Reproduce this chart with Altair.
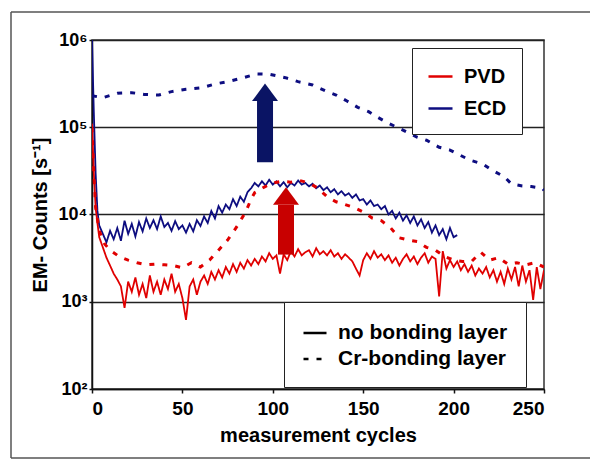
import altair as alt
import pandas as pd

# ---------------- data ----------------
materials = ["PVD", "ECD"]
layer_names = ["no bonding layer", "Cr-bonding layer"]
line_colors = ["#e00000", "#0d0d80"]

x_ticks = [0, 50, 100, 150, 200, 250]
y_ticks = [100, 1000, 10000, 100000, 1000000]

# PVD, no bonding layer (solid red, noisy)
pvd_solid_cycles = [0, 1, 2, 3] + list(range(4, 251, 2))
pvd_solid_counts = [
    110000, 30000, 12000, 8000,
    5500, 4200, 3200, 2600, 2100, 1800, 1500, 850, 1700, 1300,
    1900, 1200, 1600, 1100, 2000, 1300, 1700, 1200, 1800, 1400,
    2100, 1300, 1600, 1100, 620, 1500, 1800, 1200, 1700, 2000,
    1600, 2200, 1800, 2300, 1900, 2500, 2100, 2700, 2200, 2800,
    2400, 3000, 2600, 3100, 2700, 3300, 2900, 3600, 3100, 3400,
    2100, 3500, 3000, 3800, 3300, 4000, 3400, 3700, 3900, 3300,
    4100, 3500, 3800, 3400, 3900, 3300, 3600, 3100, 3500, 3200,
    2900, 2400, 2000, 3000, 3600, 3100, 3800, 3200, 3500, 3000,
    3400, 2800, 3200, 2600, 3100, 3500, 2900, 3300, 2700, 3200,
    3600, 2800, 3300, 3100, 1150, 3800, 2400, 3000, 2500, 2900,
    2300, 2700, 2200, 2600, 2000, 2400, 2100, 2500, 1900, 2300,
    1700, 2200, 1600, 2400, 1800, 2500, 1500, 2600, 1700, 2300,
    1050, 2500, 1400, 2300,
]

# ECD, no bonding layer (solid navy, noisy)
ecd_solid_cycles = [0, 1, 2, 3] + list(range(4, 203, 2))
ecd_solid_counts = [
    1000000, 150000, 30000, 11000,
    7500, 6000, 4800, 6500, 5200, 7000, 5000, 8500, 6000, 7800,
    5600, 8200, 6400, 9000, 7000, 8600, 6800, 9500, 7200, 8000,
    6500, 8400, 6800, 7500, 6200, 7800, 6400, 8600, 7400, 9500,
    8000, 11000, 9000, 12500, 10500, 13000, 11500, 15000, 12500, 16000,
    14000, 18000, 20000, 23000, 21000, 24000, 21500, 25000, 22000, 24000,
    21000, 23500, 20500, 23000, 21500, 24500, 22000, 23000, 21000, 22500,
    20000, 21500, 19000, 20500, 18000, 19500, 17000, 18500, 16500, 17500,
    15500, 17000, 14500, 15000, 13000, 14500, 12500, 13000, 11500, 12500,
    10000, 11000, 9000, 10500, 8500, 9800, 8000, 9500, 7500, 8800,
    7000, 8200, 6200, 7500, 5800, 6800, 5200, 7000, 5500, 5800,
]

# PVD, Cr-bonding layer (dashed red)
pvd_cr_cycles = [0, 1, 2, 4, 7, 10, 15, 20, 25, 30, 35, 40, 45, 50, 55, 60, 65,
                 70, 75, 80, 85, 88, 90, 95, 100, 105, 110, 115, 120, 125, 130,
                 135, 140, 145, 150, 155, 160, 165, 170, 175, 180, 185, 190, 195,
                 200, 205, 210, 215, 220, 225, 230, 235, 240, 245, 250]
pvd_cr_counts = [100000, 30000, 12000, 6500, 4600, 3900, 3300, 3000, 2800, 2650,
                 2700, 2650, 2600, 2450, 2800, 2500, 3000, 3900, 5100, 7200,
                 10700, 15000, 17800, 20500, 23000, 24000, 23500, 24500, 23000,
                 20000, 16000, 14000, 13000, 12000, 10700, 9100, 8500, 7100,
                 5400, 5100, 4900, 4200, 3900, 3300, 3000, 2900, 2900, 3700,
                 3000, 3200, 2700, 2800, 2650, 2800, 2500]

# ECD, Cr-bonding layer (dashed navy)
ecd_cr_cycles = [0, 6, 14, 22, 29, 37, 44, 52, 61, 68, 75, 83, 91, 98, 107, 114,
                 122, 129, 135, 141, 147, 153, 158, 164, 170, 180, 185, 192, 198,
                 209, 216, 221, 228, 232, 238, 243, 249, 250]
ecd_cr_counts = [230000, 218000, 245000, 249000, 238000, 234000, 256000, 272000,
                 284000, 313000, 333000, 366000, 408000, 405000, 370000, 333000,
                 305000, 262000, 234000, 200000, 169000, 151000, 130000, 111000,
                 97000, 76600, 71000, 59000, 54800, 42000, 38000, 32400, 27100,
                 22400, 21200, 20900, 20000, 19000]

# arrows (annotation): material, cycle, shaft bottom, head base
arrow_material = ["ECD", "PVD"]
arrow_cycle = [95.7, 107.3]
arrow_bottom = [39800, 3470]
arrow_neck = [199500, 12900]
arrow_colors = ["#0a1464", "#c80000"]

# ---------------- build tables ----------------
frames = []
for cyc, cnt, mat, lay in [
    (ecd_cr_cycles, ecd_cr_counts, "ECD", "Cr-bonding layer"),
    (ecd_solid_cycles, ecd_solid_counts, "ECD", "no bonding layer"),
    (pvd_solid_cycles, pvd_solid_counts, "PVD", "no bonding layer"),
    (pvd_cr_cycles, pvd_cr_counts, "PVD", "Cr-bonding layer"),
]:
    frames.append(pd.DataFrame({"cycle": cyc, "counts": cnt,
                                "material": mat, "layer": lay,
                                "key": mat + "|" + lay}))
df = pd.concat(frames, ignore_index=True)

arrows = pd.DataFrame({"material": arrow_material, "cycle": arrow_cycle,
                       "bottom": arrow_bottom, "neck": arrow_neck,
                       "hex": arrow_colors})

FONT = "Liberation Sans"

x_scale = alt.Scale(domain=[0, 250], nice=False)
y_scale = alt.Scale(type="log", domain=[100, 1000000], nice=False)

x_axis = alt.Axis(values=x_ticks, title="measurement cycles", grid=False,
                  labelFontSize=19, titleFontSize=20, tickSize=4,
                  labelPadding=6, titlePadding=7)
y_axis = alt.Axis(values=y_ticks, title="EM- Counts [s⁻¹]", grid=True,
                  labelFontSize=18, titleFontSize=20, tickSize=3,
                  labelPadding=2, titlePadding=8,
                  labelExpr="'10' + ['⁰','¹','²','³','⁴','⁵','⁶'][round(log(datum.value)/LN10)]")


def X(field):
    return alt.X(field, type="quantitative", scale=x_scale, axis=x_axis)


def Y(field):
    return alt.Y(field, type="quantitative", scale=y_scale, axis=y_axis)


color_enc = alt.Color(
    "material:N",
    scale=alt.Scale(domain=materials, range=line_colors),
    legend=alt.Legend(title=None, orient="none", legendX=320, legendY=8,
                      padding=15, labelFontSize=20, labelFont=FONT,
                      labelFontWeight="bold", labelColor="black",
                      symbolType="stroke", symbolSize=576,
                      symbolStrokeWidth=2.5, rowPadding=8, labelOffset=10,
                      labelLimit=0,
                      strokeColor="#222", fillColor="white"),
)
dash_enc = alt.StrokeDash(
    "layer:N",
    scale=alt.Scale(domain=layer_names, range=[[1, 0], [5, 8]]),
    legend=alt.Legend(title=None, orient="none", legendX=192, legendY=262,
                      padding=18, labelFontSize=21, labelFont=FONT,
                      labelFontWeight="bold", labelColor="black",
                      symbolType="stroke", symbolSize=529,
                      symbolStrokeColor="black", symbolStrokeWidth=2.5,
                      rowPadding=3, labelOffset=10, labelLimit=0,
                      strokeColor="#222", fillColor="white"),
)

base = alt.Chart(df)
line_layers = []
for key, width in [("ECD|Cr-bonding layer", 3),
                   ("ECD|no bonding layer", 1.8),
                   ("PVD|no bonding layer", 1.8),
                   ("PVD|Cr-bonding layer", 3)]:
    line_layers.append(
        base.transform_filter(alt.datum.key == key)
        .mark_line(strokeWidth=width, clip=True, strokeCap="butt")
        .encode(x=X("cycle"), y=Y("counts"), color=color_enc,
                strokeDash=dash_enc, order="cycle:Q")
    )

arrow_layers = []
for mat, hexc in zip(arrow_material, arrow_colors):
    a = alt.Chart(arrows).transform_filter(alt.datum.material == mat)
    arrow_layers.append(
        a.mark_rule(color=hexc, strokeWidth=16, strokeCap="butt")
        .encode(x=X("cycle"), y=Y("bottom"), y2="neck:Q")
    )
    arrow_layers.append(
        a.mark_point(shape="M-1,0L0,-1.35L1,0Z", size=676, filled=True,
                     opacity=1, color=hexc, strokeWidth=0)
        .encode(x=X("cycle"), y=Y("neck"))
    )

# outer picture frame (left, top and bottom edges)
one = pd.DataFrame({"k": [0]})
frame_style = dict(color="#555", strokeWidth=1.5)
frame_left = alt.Chart(one).mark_rule(**frame_style).encode(
    x=alt.value(-81), y=alt.value(-28), y2=alt.value(418))
frame_top = alt.Chart(one).mark_rule(**frame_style).encode(
    x=alt.value(-81), x2=alt.value(600), y=alt.value(-28))
frame_bottom = alt.Chart(one).mark_rule(**frame_style).encode(
    x=alt.value(-81), x2=alt.value(600), y=alt.value(418))

chart = alt.layer(frame_left, frame_top, frame_bottom,
                  *line_layers, *arrow_layers).properties(
    width=452, height=349,
    autosize=alt.AutoSizeParams(type="none"),
    padding={"left": 92, "top": 40, "right": 46, "bottom": 70},
    background="white",
).configure_view(
    stroke="#333", strokeWidth=1.5
).configure_axis(
    labelFont=FONT, titleFont=FONT, labelFontWeight="bold",
    titleFontWeight="bold", labelColor="black", titleColor="black",
    domainColor="#111", domainWidth=1.5, tickColor="#111", tickWidth=1.5,
    gridColor="#222", gridWidth=1.3, gridOpacity=1,
).configure_legend(
    labelFont=FONT
)

chart.save("out.html", embed_options={"renderer": "svg", "actions": False})
